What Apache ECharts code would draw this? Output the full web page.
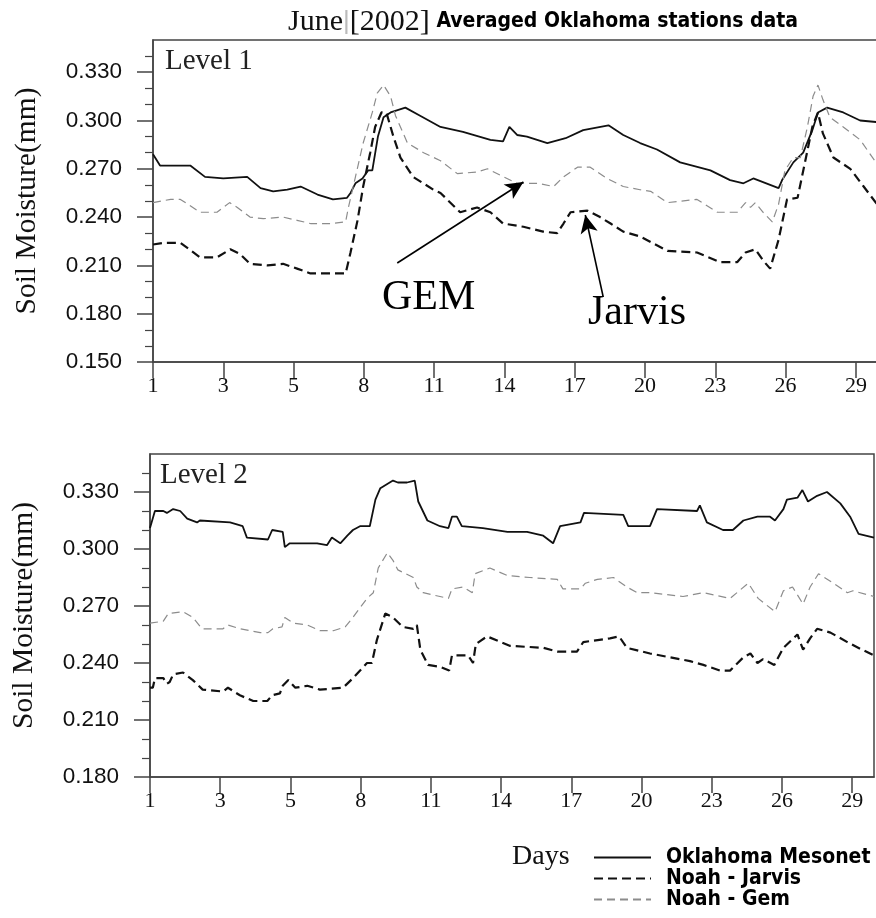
<!DOCTYPE html>
<html>
<head>
<meta charset="utf-8">
<script src="https://cdn.jsdelivr.net/npm/echarts@6/dist/echarts.min.js"></script>
<style>
  html, body { margin: 0; padding: 0; background: #fff; }
  #chart { width: 876px; height: 918px; }
</style>
</head>
<body>
<div id="chart"></div>
<script>
// Horizontal positions are expressed in tick units: tick k carries dayLabels[k].
const dayLabels = ['1', '3', '5', '8', '11', '14', '17', '20', '23', '26', '29'];
const level1YTicks = [0.15, 0.18, 0.21, 0.24, 0.27, 0.30, 0.33];
const level2YTicks = [0.18, 0.21, 0.24, 0.27, 0.30, 0.33];
const seriesNames = ['Oklahoma Mesonet', 'Noah - Jarvis', 'Noah - Gem'];

// Level 1 soil moisture
const l1Mesonet = [
  [0, 0.279], [0.10, 0.272], [0.32, 0.272], [0.53, 0.272], [0.74, 0.265], [1.00, 0.264],
  [1.34, 0.265], [1.53, 0.258], [1.71, 0.256], [1.91, 0.257], [2.10, 0.259], [2.34, 0.254],
  [2.56, 0.251], [2.76, 0.252], [2.81, 0.255], [2.88, 0.261], [2.98, 0.264], [3.06, 0.269],
  [3.12, 0.269], [3.20, 0.290], [3.28, 0.302], [3.38, 0.305], [3.59, 0.308], [3.80, 0.303],
  [4.09, 0.296], [4.41, 0.293], [4.80, 0.288], [4.98, 0.287], [5.07, 0.296], [5.18, 0.291],
  [5.32, 0.290], [5.61, 0.286], [5.87, 0.289], [6.12, 0.294], [6.48, 0.297], [6.69, 0.291],
  [6.93, 0.286], [7.17, 0.282], [7.50, 0.274], [7.93, 0.269], [8.21, 0.263], [8.40, 0.261],
  [8.54, 0.264], [8.90, 0.258], [8.95, 0.263], [9.11, 0.274], [9.25, 0.280], [9.38, 0.294],
  [9.46, 0.305], [9.59, 0.308], [9.82, 0.305], [10.06, 0.300], [10.30, 0.299]
];
const l1Jarvis = [
  [0, 0.223], [0.15, 0.224], [0.39, 0.224], [0.67, 0.215], [0.91, 0.215], [1.10, 0.220],
  [1.24, 0.217], [1.38, 0.211], [1.63, 0.210], [1.85, 0.211], [2.05, 0.208], [2.24, 0.205],
  [2.52, 0.205], [2.74, 0.205], [2.81, 0.218], [2.91, 0.238], [2.99, 0.259], [3.09, 0.280],
  [3.16, 0.296], [3.25, 0.305], [3.32, 0.305], [3.42, 0.290], [3.52, 0.277], [3.70, 0.265],
  [3.99, 0.257], [4.09, 0.255], [4.37, 0.243], [4.61, 0.246], [4.80, 0.243], [4.98, 0.236],
  [5.27, 0.234], [5.55, 0.231], [5.75, 0.230], [5.84, 0.236], [5.94, 0.243], [6.18, 0.244],
  [6.36, 0.240], [6.51, 0.236], [6.69, 0.231], [6.93, 0.228], [7.32, 0.219], [7.74, 0.218],
  [8.07, 0.212], [8.31, 0.212], [8.43, 0.218], [8.57, 0.220], [8.68, 0.213], [8.78, 0.208],
  [8.90, 0.226], [9.02, 0.251], [9.17, 0.252], [9.28, 0.275], [9.38, 0.296], [9.46, 0.305],
  [9.53, 0.292], [9.68, 0.277], [9.92, 0.270], [10.11, 0.259], [10.30, 0.248]
];
const l1Gem = [
  [0, 0.249], [0.25, 0.251], [0.39, 0.251], [0.67, 0.243], [0.91, 0.243], [1.09, 0.249],
  [1.20, 0.246], [1.38, 0.240], [1.57, 0.239], [1.85, 0.240], [2.05, 0.238], [2.24, 0.236],
  [2.52, 0.236], [2.74, 0.237], [2.78, 0.246], [2.88, 0.265], [2.99, 0.286], [3.12, 0.305],
  [3.19, 0.317], [3.28, 0.322], [3.38, 0.315], [3.45, 0.303], [3.62, 0.286], [3.85, 0.280],
  [4.09, 0.275], [4.33, 0.267], [4.61, 0.268], [4.76, 0.270], [4.94, 0.266], [5.18, 0.261],
  [5.47, 0.261], [5.70, 0.259], [5.84, 0.265], [6.04, 0.271], [6.22, 0.271], [6.46, 0.264],
  [6.69, 0.259], [6.93, 0.257], [7.08, 0.256], [7.32, 0.249], [7.74, 0.251], [8.03, 0.243],
  [8.31, 0.243], [8.43, 0.249], [8.50, 0.246], [8.57, 0.249], [8.68, 0.243], [8.81, 0.237],
  [8.90, 0.248], [8.99, 0.269], [9.11, 0.277], [9.21, 0.277], [9.31, 0.296], [9.39, 0.315],
  [9.46, 0.322], [9.53, 0.313], [9.63, 0.302], [9.82, 0.296], [10.06, 0.288], [10.30, 0.273]
];

// Level 2 soil moisture
const l2Mesonet = [
  [0, 0.311], [0.07, 0.320], [0.19, 0.320], [0.24, 0.319], [0.33, 0.321], [0.43, 0.320],
  [0.53, 0.316], [0.67, 0.314], [0.71, 0.315], [1.14, 0.314], [1.32, 0.312], [1.38, 0.306],
  [1.68, 0.305], [1.74, 0.310], [1.89, 0.309], [1.92, 0.301], [1.99, 0.303], [2.38, 0.303],
  [2.52, 0.302], [2.59, 0.306], [2.71, 0.303], [2.81, 0.307], [2.89, 0.310], [2.99, 0.312],
  [3.13, 0.312], [3.21, 0.326], [3.28, 0.332], [3.46, 0.336], [3.53, 0.335], [3.66, 0.335],
  [3.77, 0.336], [3.82, 0.325], [3.95, 0.315], [4.13, 0.312], [4.25, 0.311], [4.30, 0.317],
  [4.37, 0.317], [4.44, 0.312], [4.74, 0.311], [5.09, 0.309], [5.37, 0.309], [5.60, 0.307],
  [5.74, 0.303], [5.84, 0.312], [6.13, 0.314], [6.18, 0.319], [6.74, 0.318], [6.81, 0.312],
  [7.12, 0.312], [7.22, 0.321], [7.79, 0.320], [7.83, 0.323], [7.93, 0.314], [8.16, 0.310],
  [8.30, 0.310], [8.45, 0.315], [8.65, 0.317], [8.83, 0.317], [8.90, 0.315], [9.02, 0.321],
  [9.07, 0.326], [9.22, 0.327], [9.29, 0.331], [9.37, 0.325], [9.50, 0.328], [9.64, 0.330],
  [9.83, 0.324], [9.97, 0.317], [10.09, 0.308], [10.31, 0.306]
];
const l2Jarvis = [
  [0, 0.227], [0.04, 0.227], [0.07, 0.232], [0.19, 0.232], [0.24, 0.229], [0.28, 0.230],
  [0.33, 0.234], [0.47, 0.235], [0.61, 0.231], [0.75, 0.226], [1.04, 0.225], [1.11, 0.227],
  [1.28, 0.223], [1.47, 0.220], [1.67, 0.220], [1.74, 0.223], [1.85, 0.224], [1.89, 0.228],
  [1.97, 0.231], [2.07, 0.227], [2.24, 0.228], [2.42, 0.226], [2.75, 0.227], [2.89, 0.232],
  [3.09, 0.240], [3.16, 0.240], [3.23, 0.252], [3.35, 0.266], [3.46, 0.264], [3.60, 0.259],
  [3.75, 0.258], [3.80, 0.260], [3.85, 0.247], [3.96, 0.239], [4.13, 0.238], [4.26, 0.236],
  [4.30, 0.244], [4.53, 0.244], [4.60, 0.240], [4.64, 0.250], [4.80, 0.254], [5.13, 0.249],
  [5.60, 0.248], [5.80, 0.246], [6.08, 0.246], [6.17, 0.251], [6.55, 0.253], [6.68, 0.254],
  [6.79, 0.248], [7.12, 0.245], [7.69, 0.241], [7.88, 0.239], [8.12, 0.236], [8.26, 0.236],
  [8.45, 0.243], [8.55, 0.245], [8.65, 0.240], [8.73, 0.242], [8.89, 0.239], [9.02, 0.248],
  [9.22, 0.255], [9.30, 0.247], [9.40, 0.253], [9.50, 0.258], [9.69, 0.256], [9.93, 0.251],
  [10.14, 0.247], [10.31, 0.244]
];
const l2Gem = [
  [0, 0.261], [0.19, 0.262], [0.26, 0.266], [0.47, 0.267], [0.61, 0.264], [0.74, 0.258],
  [1.04, 0.258], [1.11, 0.260], [1.28, 0.258], [1.57, 0.256], [1.68, 0.256], [1.75, 0.258],
  [1.88, 0.259], [1.92, 0.264], [2.04, 0.261], [2.24, 0.260], [2.42, 0.257], [2.61, 0.257],
  [2.78, 0.259], [2.89, 0.264], [3.09, 0.274], [3.18, 0.277], [3.25, 0.290], [3.38, 0.298],
  [3.46, 0.294], [3.53, 0.289], [3.75, 0.285], [3.80, 0.280], [3.89, 0.277], [4.13, 0.275],
  [4.25, 0.274], [4.30, 0.279], [4.46, 0.280], [4.59, 0.277], [4.63, 0.287], [4.84, 0.290],
  [5.09, 0.286], [5.41, 0.285], [5.80, 0.284], [5.88, 0.279], [6.13, 0.279], [6.20, 0.282],
  [6.37, 0.284], [6.60, 0.285], [6.79, 0.280], [6.94, 0.277], [7.12, 0.277], [7.59, 0.275],
  [7.88, 0.277], [8.26, 0.274], [8.52, 0.282], [8.66, 0.274], [8.90, 0.267], [9.02, 0.278],
  [9.15, 0.280], [9.30, 0.271], [9.40, 0.280], [9.52, 0.287], [9.73, 0.282], [9.93, 0.277],
  [10.01, 0.278], [10.31, 0.275]
];

// Callout arrows on the Level 1 panel: [from, to] in axis units
const calloutArrows = [
  [[3.475, 0.2115], [5.27, 0.2618]],   // GEM
  [[6.405, 0.1904], [6.15, 0.2413]]    // Jarvis
];

const SERIF = "'Liberation Serif', 'Times New Roman', serif";
const SANS = "'Liberation Sans', Arial, sans-serif";
const NARROW = "'Liberation Sans Narrow', 'DejaVu Sans Condensed', 'Liberation Sans', sans-serif";
const AXIS_COLOR = '#444';
const tickIdx = dayLabels.map((_, i) => i);

const lineStyles = {
  'Oklahoma Mesonet': { color: '#111', width: 1.8, type: 'solid' },
  'Noah - Jarvis': { color: '#111', width: 2.2, type: [9, 5] },
  'Noah - Gem': { color: '#8c8c8c', width: 1.2, type: [8, 5] }
};

function xAxisFor(gridIndex, max) {
  return {
    type: 'value', gridIndex, min: 0, max,
    axisLine: { show: true, lineStyle: { color: AXIS_COLOR, width: 1.5 } },
    axisTick: { show: true, inside: false, length: 16, customValues: tickIdx,
                lineStyle: { color: AXIS_COLOR, width: 1.5 } },
    axisLabel: { customValues: tickIdx, formatter: v => dayLabels[Math.round(v)],
                 fontFamily: SERIF, fontSize: 22, color: '#111', margin: 13 },
    splitLine: { show: false }
  };
}
function yAxisFor(gridIndex, min, max, ticks) {
  return {
    type: 'value', gridIndex, min, max, interval: 0.03,
    name: 'Soil Moisture(mm)', nameLocation: 'middle', nameGap: 111,
    nameTextStyle: { fontFamily: SERIF, fontSize: 29.5, color: '#111' },
    axisLine: { show: true, lineStyle: { color: AXIS_COLOR, width: 1.5 } },
    axisTick: { show: true, inside: false, length: 16, customValues: ticks,
                lineStyle: { color: AXIS_COLOR, width: 1.5 } },
    minorTick: { show: true, splitNumber: 3, length: 8, lineStyle: { color: AXIS_COLOR, width: 1.2 } },
    axisLabel: { customValues: ticks, formatter: v => v.toFixed(3),
                 fontFamily: SANS, fontSize: 22.5, color: '#111', margin: 31 },
    splitLine: { show: false }, minorSplitLine: { show: false }
  };
}
function lineSeries(name, data, axisIndex, extra) {
  return Object.assign({
    type: 'line', name, data, xAxisIndex: axisIndex, yAxisIndex: axisIndex,
    showSymbol: false, symbol: 'none', smooth: false, animation: false,
    lineStyle: lineStyles[name], itemStyle: { color: lineStyles[name].color },
    emphasis: { disabled: true }
  }, extra || {});
}

const chart = echarts.init(document.getElementById('chart'), null, { renderer: 'canvas' });
chart.setOption({
  animation: false,
  backgroundColor: '#fff',
  grid: [
    // the Level 1 frame runs past the right edge of the canvas
    { left: 153, top: 40, width: 724, height: 322, show: true, borderColor: AXIS_COLOR,
      borderWidth: 1.5, containLabel: false, outerBoundsMode: 'none' },
    { left: 150, top: 454, width: 724, height: 323, show: true, borderColor: AXIS_COLOR,
      borderWidth: 1.5, containLabel: false, outerBoundsMode: 'none' }
  ],
  xAxis: [xAxisFor(0, 10.30), xAxisFor(1, 10.31)],
  yAxis: [yAxisFor(0, 0.15, 0.35, level1YTicks), yAxisFor(1, 0.18, 0.35, level2YTicks)],
  legend: {
    orient: 'vertical', left: 593, top: 847, padding: 0, itemGap: 0,
    itemWidth: 57, itemHeight: 20, selectedMode: false, data: seriesNames,
    itemStyle: { color: 'rgba(0,0,0,0)', borderColor: 'rgba(0,0,0,0)', borderWidth: 0, opacity: 0 },
    textStyle: { fontFamily: NARROW, fontWeight: 'bold', fontSize: 21, lineHeight: 20,
                 color: '#000', padding: [0, 0, 0, 10] }
  },
  series: [
    lineSeries('Oklahoma Mesonet', l1Mesonet, 0, {
      markLine: {
        silent: true, animation: false, symbol: ['none', 'arrow'], symbolSize: [13, 18],
        label: { show: false }, emphasis: { disabled: true },
        lineStyle: { color: '#000', width: 1.6, type: 'solid' },
        data: calloutArrows.map(([a, b]) => [{ coord: a }, { coord: b }])
      }
    }),
    lineSeries('Noah - Jarvis', l1Jarvis, 0),
    lineSeries('Noah - Gem', l1Gem, 0),
    lineSeries('Oklahoma Mesonet', l2Mesonet, 1),
    lineSeries('Noah - Jarvis', l2Jarvis, 1),
    lineSeries('Noah - Gem', l2Gem, 1)
  ],
  graphic: [
    { type: 'text', left: 288, top: 7, silent: true,
      style: {
        text: '{a|June}{b||}{a|[2002]}  {c|Averaged Oklahoma stations data}',
        rich: {
          a: { fontFamily: SERIF, fontSize: 30, fill: '#111' },
          b: { fontFamily: SANS, fontSize: 26, fill: '#bbb' },
          c: { fontFamily: NARROW, fontWeight: 'bold', fontSize: 21, fill: '#000' }
        }
      } },
    { type: 'text', x: 165, y: 47, silent: true,
      style: { text: 'Level 1', fontFamily: SERIF, fontSize: 29, fill: '#222', verticalAlign: 'top' } },
    { type: 'text', x: 160, y: 461, silent: true,
      style: { text: 'Level 2', fontFamily: SERIF, fontSize: 29, fill: '#222', verticalAlign: 'top' } },
    { type: 'text', x: 382, y: 277, silent: true,
      style: { text: 'GEM', fontFamily: SERIF, fontSize: 42, fill: '#000', verticalAlign: 'top' } },
    { type: 'text', x: 588, y: 292, silent: true,
      style: { text: 'Jarvis', fontFamily: SERIF, fontSize: 42, fill: '#000', verticalAlign: 'top' } },
    { type: 'text', x: 512, y: 843, silent: true,
      style: { text: 'Days', fontFamily: SERIF, fontSize: 28, fill: '#111', verticalAlign: 'top' } }
  ]
});
</script>
</body>
</html>
